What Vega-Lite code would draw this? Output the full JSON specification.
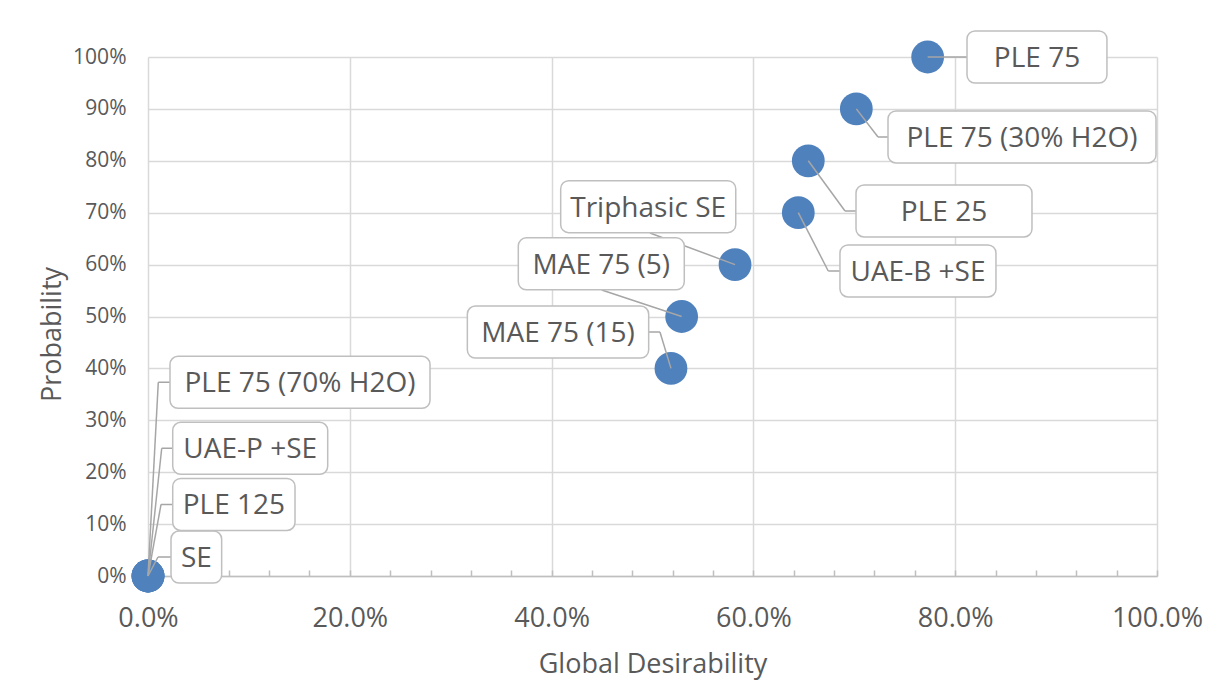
{
  "$schema": "https://vega.github.io/schema/vega-lite/v6.json",
  "autosize": {"type": "none"},
  "width": 1009,
  "height": 519,
  "padding": {"left": 148, "top": 57, "right": 58, "bottom": 104},
  "background": "white",
  "config": {
    "font": "Open Sans",
    "view": {"stroke": null}
  },
  "data": {
    "values": [
      {"name": "PLE 75", "gd": 0.7727, "prob": 1.0, "bx1": 0.8117, "bx2": 0.9504, "tx": 0.8811, "ty": 1.0, "ex": 0.7727, "ey": 1.0},
      {"name": "PLE 75 (30% H2O)", "gd": 0.702, "prob": 0.9, "bx1": 0.7334, "bx2": 0.999, "tx": 0.8662, "ty": 0.8459, "ex": 0.7235, "ey": 0.8459},
      {"name": "PLE 25", "gd": 0.6544, "prob": 0.8, "bx1": 0.7017, "bx2": 0.8761, "tx": 0.7889, "ty": 0.7033, "ex": 0.6908, "ey": 0.7033},
      {"name": "UAE-B +SE", "gd": 0.6445, "prob": 0.7, "bx1": 0.6858, "bx2": 0.8404, "tx": 0.7631, "ty": 0.5877, "ex": 0.6742, "ey": 0.5877},
      {"name": "Triphasic SE", "gd": 0.5818, "prob": 0.6, "bx1": 0.409, "bx2": 0.5825, "tx": 0.4957, "ty": 0.7116, "ex": 0.4975, "ey": 0.6609},
      {"name": "MAE 75 (5)", "gd": 0.5289, "prob": 0.5, "bx1": 0.367, "bx2": 0.5315, "tx": 0.4493, "ty": 0.6015, "ex": 0.4497, "ey": 0.5511},
      {"name": "MAE 75 (15)", "gd": 0.5183, "prob": 0.4, "bx1": 0.3165, "bx2": 0.4962, "tx": 0.4064, "ty": 0.4701, "ex": 0.5074, "ey": 0.4701},
      {"name": "SE", "gd": 0.0, "prob": 0.0, "bx1": 0.0228, "bx2": 0.073, "tx": 0.0479, "ty": 0.0366, "ex": 0.0099, "ey": 0.0366},
      {"name": "PLE 125", "gd": 0.0, "prob": 0.0, "bx1": 0.0245, "bx2": 0.1457, "tx": 0.0851, "ty": 0.1378, "ex": 0.0129, "ey": 0.1378},
      {"name": "UAE-P +SE", "gd": 0.0, "prob": 0.0, "bx1": 0.0245, "bx2": 0.1781, "tx": 0.1013, "ty": 0.2461, "ex": 0.0136, "ey": 0.2461},
      {"name": "PLE 75 (70% H2O)", "gd": 0.0, "prob": 0.0, "bx1": 0.0218, "bx2": 0.2795, "tx": 0.1506, "ty": 0.3732, "ex": 0.0102, "ey": 0.3732}
    ]
  },
  "layer": [
    {
      "mark": {"type": "point", "shape": "circle", "filled": true, "size": 1075, "color": "#4F81BD", "opacity": 1},
      "encoding": {
        "x": {
          "field": "gd", "type": "quantitative",
          "scale": {"domain": [0, 1], "nice": false, "zero": false},
          "axis": {
            "title": "Global Desirability",
            "values": [0, 0.04, 0.08, 0.12, 0.16, 0.2, 0.24, 0.28, 0.32, 0.36, 0.4, 0.44, 0.48, 0.52, 0.56, 0.6, 0.64, 0.68, 0.72, 0.76, 0.8, 0.84, 0.88, 0.92, 0.96, 1.0],
            "format": ".1%",
            "labelExpr": "(round(datum.value*100) % 20 == 0) ? datum.label : ''",
            "labelFontSize": 27,
            "labelColor": "#595959",
            "labelPadding": 35,
            "labelFlush": false,
            "labelOverlap": false,
            "tickSize": -6,
            "tickColor": "#bfbfbf",
            "tickWidth": 1.5,
            "domainColor": "#bfbfbf",
            "domainWidth": 1.5,
            "grid": true,
            "gridColor": "#d9d9d9",
            "gridWidth": 1.5,
            "gridOpacity": {"condition": {"test": "round(datum.value*100) % 20 == 0", "value": 1}, "value": 0},
            "titleFontSize": 27,
            "titleFontWeight": "normal",
            "titleColor": "#595959",
            "titlePadding": 20
          }
        },
        "y": {
          "field": "prob", "type": "quantitative",
          "scale": {"domain": [0, 1], "nice": false, "zero": false},
          "axis": {
            "title": "Probability",
            "values": [0, 0.1, 0.2, 0.3, 0.4, 0.5, 0.6, 0.7, 0.8, 0.9, 1.0],
            "format": ".0%",
            "labelFontSize": 21,
            "labelColor": "#595959",
            "labelPadding": 22,
            "ticks": false,
            "domain": false,
            "grid": true,
            "gridColor": "#d9d9d9",
            "gridWidth": 1.5,
            "titleFontSize": 27,
            "titleFontWeight": "normal",
            "titleColor": "#595959",
            "titleY": 277,
            "titleX": -82,
            "titleBaseline": "bottom",
            "titleAlign": "center",
            "titleAngle": 270
          }
        }
      }
    },
    {
      "mark": {"type": "rule", "color": "#a6a6a6", "strokeWidth": 1.5},
      "encoding": {
        "x": {"field": "gd", "type": "quantitative"},
        "y": {"field": "prob", "type": "quantitative"},
        "x2": {"field": "ex"},
        "y2": {"field": "ey"}
      }
    },
    {
      "mark": {"type": "rule", "color": "#a6a6a6", "strokeWidth": 1.5},
      "encoding": {
        "x": {"field": "ex", "type": "quantitative"},
        "y": {"field": "ey", "type": "quantitative"},
        "x2": {"field": "tx"},
        "y2": {"field": "ty"}
      }
    },
    {
      "mark": {"type": "rect", "height": 52, "fill": "white", "stroke": "#bfbfbf", "strokeWidth": 1.5, "cornerRadius": 8},
      "encoding": {
        "x": {"field": "bx1", "type": "quantitative"},
        "x2": {"field": "bx2"},
        "y": {"field": "ty", "type": "quantitative"}
      }
    },
    {
      "mark": {"type": "text", "fontSize": 28, "color": "#595959", "align": "center", "baseline": "middle", "dy": 2},
      "encoding": {
        "x": {"field": "tx", "type": "quantitative"},
        "y": {"field": "ty", "type": "quantitative"},
        "text": {"field": "name"}
      }
    }
  ]
}
